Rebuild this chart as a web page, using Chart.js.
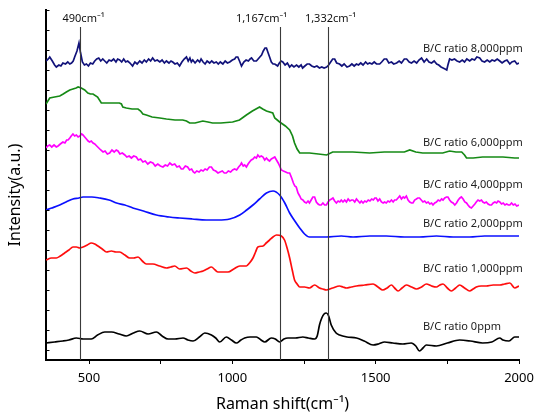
<!DOCTYPE html>
<html>
<head>
<meta charset="utf-8">
<script src="https://cdn.jsdelivr.net/npm/chart.js@4.4.1/dist/chart.umd.min.js"></script>
<style>
html,body{margin:0;padding:0;background:#fff;}
#wrap{width:534px;height:415px;position:relative;}
</style>
</head>
<body>
<div id="wrap"><canvas id="c" width="534" height="415"></canvas></div>
<script>
// ---- data (Raman shift in cm-1, intensity in arbitrary offset units) ----
const xTicks = [500, 750, 1000, 1250, 1500, 1750, 2000];
const yTicks = [10,30,50,70,90,110,130,150,170,190,210,230,250,270,290,310,330,350];

const peakPositions = [468, 1167, 1332];
const peakLabels = ['490cm⁻¹', '1,167cm⁻¹', '1,332cm⁻¹'];

const seriesNames = ['B/C ratio 8,000ppm','B/C ratio 6,000ppm','B/C ratio 4,000ppm','B/C ratio 2,000ppm','B/C ratio 1,000ppm','B/C ratio 0ppm'];
const seriesLabelY = [311, 217, 175, 136, 91, 33];

const x8000 = [350,358,363,372,380,386,395,402,409,418,426,433,439,445,450,458,465,470,477,484,491,498,505,513,520,527,534,541,548,555,562,570,578,586,594,600,607,614,621,628,635,643,652,660,668,677,685,693,700,708,715,722,730,738,747,755,763,770,779,786,792,800,808,816,824,832,840,846,852,857,862,870,879,886,891,898,905,912,921,928,936,944,951,958,967,975,983,991,1000,1008,1013,1019,1025,1032,1040,1048,1056,1062,1067,1075,1084,1090,1096,1102,1108,1114,1119,1125,1130,1136,1142,1148,1153,1158,1164,1170,1176,1184,1192,1200,1207,1215,1224,1232,1240,1245,1253,1261,1269,1277,1286,1295,1304,1312,1320,1329,1336,1343,1350,1357,1364,1374,1382,1390,1400,1409,1417,1425,1433,1440,1448,1456,1465,1472,1479,1487,1495,1503,1514,1521,1530,1538,1546,1555,1563,1573,1582,1590,1600,1608,1617,1625,1634,1643,1651,1660,1669,1678,1686,1695,1704,1713,1720,1728,1735,1742,1748,1752,1758,1766,1775,1784,1793,1802,1810,1818,1828,1836,1845,1853,1863,1871,1880,1889,1898,1906,1915,1924,1933,1941,1950,1958,1968,1975,1985,1993,2000];
const y8000 = [299,301,303,299,295,293,295,294,297,296,298,296,297,299,303,309,317,308,298,295,296,294,297,296,299,301,302,299,301,299,297,300,299,301,298,301,300,298,301,298,299,297,294,298,296,299,297,300,298,301,299,302,299,300,298,300,297,299,297,299,298,296,297,294,298,301,303,299,302,298,300,297,300,298,301,298,296,299,297,299,297,298,296,298,296,299,297,298,300,301,303,303,299,294,298,300,299,301,302,299,299,301,303,305,309,312,312,307,303,298,296,296,295,294,297,299,298,295,297,293,295,293,295,293,295,292,294,296,296,294,293,294,292,293,292,293,295,298,301,301,297,296,294,296,293,294,296,294,296,295,297,295,298,296,297,296,298,296,296,298,301,301,297,298,296,297,299,297,301,301,298,297,299,297,300,302,298,301,298,297,299,296,295,293,292,291,290,295,301,300,301,299,298,300,298,301,299,301,300,303,302,299,298,300,298,300,299,301,299,297,299,300,296,298,299,296,297];

const x6000 = [350,363,380,398,410,421,433,444,455,462,473,485,496,505,514,530,543,560,584,606,613,618,630,650,671,680,688,700,720,747,770,800,827,840,851,870,897,915,931,960,1001,1025,1049,1070,1095,1106,1119,1141,1148,1165,1185,1200,1210,1217,1226,1235,1269,1300,1329,1350,1380,1420,1479,1530,1573,1600,1619,1640,1664,1700,1734,1758,1780,1800,1810,1817,1840,1873,1910,1944,1985,2000];
const y6000 = [256,262,263,264,266,268,270,271,272,273,272,270,267,266,266,263,257,257,257,257,256,253,252,251,251,249,246,245,243,242,241,240,240,239,237,237,239,238,237,237,238,240,245,249,253,251,249,247,242,238,234,230,224,217,211,207,207,206,205,208,208,208,207,208,208,208,210,208,207,207,207,209,208,208,205,202,202,203,203,203,202,202];

const x4000 = [350,356,363,370,378,386,392,400,409,416,422,427,433,438,444,450,456,462,468,474,479,485,491,497,502,508,514,520,527,534,541,549,556,564,572,580,588,595,601,608,616,625,632,640,648,656,665,672,680,688,696,705,714,723,731,740,749,758,766,774,782,790,799,807,815,822,828,836,844,851,858,864,869,876,884,891,898,905,912,920,927,934,942,950,957,965,972,979,986,994,1001,1008,1015,1022,1028,1032,1038,1043,1049,1055,1060,1066,1072,1078,1084,1089,1095,1101,1107,1113,1119,1125,1130,1136,1142,1148,1154,1160,1165,1171,1178,1186,1193,1200,1207,1213,1218,1223,1229,1235,1240,1246,1252,1258,1264,1269,1275,1281,1287,1293,1299,1304,1310,1316,1322,1328,1334,1340,1346,1351,1357,1363,1369,1375,1380,1386,1392,1398,1404,1410,1416,1421,1427,1433,1439,1445,1450,1456,1462,1468,1474,1480,1486,1492,1497,1502,1508,1514,1520,1526,1531,1537,1543,1549,1555,1561,1566,1572,1578,1584,1590,1596,1601,1607,1613,1619,1625,1630,1636,1642,1647,1653,1659,1665,1671,1677,1683,1689,1695,1700,1706,1712,1718,1724,1730,1735,1741,1747,1752,1758,1764,1770,1776,1782,1788,1794,1799,1805,1811,1817,1822,1828,1834,1840,1846,1851,1857,1863,1869,1874,1880,1886,1892,1898,1904,1910,1916,1922,1927,1933,1939,1945,1951,1957,1963,1968,1974,1980,1986,1992,2000];
const y4000 = [212,214,215,213,215,213,214,216,218,217,220,220,222,224,226,224,225,223,224,226,225,223,221,219,218,219,217,216,214,212,210,208,209,206,207,210,208,210,209,206,207,205,203,204,202,204,203,200,201,198,199,196,198,197,194,196,194,193,195,194,197,195,196,193,194,191,191,194,193,190,191,188,187,189,188,190,189,191,190,193,193,190,189,187,188,189,187,187,189,188,190,191,190,193,195,197,194,195,193,196,198,200,201,203,202,205,203,204,203,200,202,200,199,201,202,203,200,197,194,190,189,188,187,187,182,177,174,173,167,164,161,160,158,157,159,157,160,163,163,158,156,155,155,157,155,155,158,160,161,162,159,157,159,158,160,158,160,158,161,159,160,160,158,161,159,157,159,157,159,158,160,159,161,160,162,162,159,161,158,157,158,157,159,158,160,158,160,160,162,164,161,163,162,164,160,158,157,157,160,161,162,162,160,158,159,157,158,156,157,155,157,158,160,159,161,160,162,163,163,160,158,157,155,157,160,162,163,161,158,157,155,153,152,154,156,158,160,159,160,158,157,158,156,155,155,157,158,157,159,158,156,157,155,156,155,155,157,155,156,154,155];

const x2000 = [350,370,398,420,444,465,479,510,537,570,596,625,653,690,735,780,816,860,909,950,991,1026,1050,1072,1095,1119,1142,1165,1183,1200,1218,1235,1252,1269,1300,1328,1380,1421,1480,1537,1600,1653,1712,1770,1828,1880,1933,1978,2000];
const y2000 = [150,152,155,158,161,162,163,163,162,160,157,155,152,149,145,143,142,141,140,140,141,145,150,155,161,167,169,165,157,147,139,132,126,123,123,123,124,123,124,124,123,123,124,123,123,124,124,124,124];

const x1000 = [350,369,386,400,415,430,444,456,468,479,494,508,520,531,546,561,578,594,607,625,642,656,671,686,700,712,723,746,770,785,799,816,840,855,869,884,898,912,927,940,950,968,985,1005,1026,1049,1060,1072,1081,1089,1107,1118,1130,1142,1154,1171,1182,1191,1200,1209,1217,1226,1235,1252,1269,1287,1304,1316,1328,1350,1374,1386,1398,1415,1433,1462,1491,1508,1525,1540,1555,1566,1578,1592,1607,1625,1642,1660,1677,1695,1712,1724,1735,1750,1764,1779,1793,1810,1828,1840,1851,1868,1886,1910,1933,1950,1968,1985,2000];
const y1000 = [100,102,102,104,107,110,113,113,112,113,115,117,116,114,111,108,109,108,108,105,102,102,103,99,96,96,96,94,92,93,94,91,92,89,87,88,89,91,93,90,88,88,88,91,94,94,97,102,108,113,114,117,120,123,125,124,120,112,102,90,80,76,73,73,72,75,72,71,70,72,74,73,72,73,74,75,76,73,70,72,75,72,69,72,75,73,71,73,76,74,73,75,76,72,69,72,75,72,69,71,73,74,74,75,75,76,77,72,74];

const x0 = [350,380,409,430,456,480,508,530,555,579,605,630,655,677,706,735,755,776,800,828,845,863,885,904,927,942,956,979,997,1014,1030,1043,1062,1084,1100,1113,1136,1150,1165,1180,1194,1220,1246,1265,1287,1296,1304,1312,1320,1328,1336,1345,1362,1374,1400,1433,1460,1491,1510,1531,1560,1595,1624,1640,1653,1665,1677,1712,1750,1793,1830,1873,1905,1933,1944,1965,1985,2000];
const y0 = [17,18,19,20,22,21,21,25,28,28,26,24,27,29,26,28,24,21,21,22,20,19,23,27,25,22,18,23,20,17,20,22,23,23,20,18,22,21,18,21,22,22,23,22,21,24,35,42,46,47,44,35,27,25,23,22,19,15,16,18,17,16,17,14,9,12,15,14,17,20,19,17,18,22,20,19,23,23];

const seriesColors = ['#11127a','#168a16','#ff00ff','#0b10ff','#ff0d0d','#000000'];

// ---- helpers ----
function pts(xs, ys){ return xs.map((v,i)=>({x:v, y:ys[i]})); }

const allX = [x8000,x6000,x4000,x2000,x1000,x0];
const allY = [y8000,y6000,y4000,y2000,y1000,y0];
const tensions = [0, 0, 0, 0.4, 0.4, 0.4];

const datasets = allX.map((xs,i)=>({
  label: seriesNames[i],
  data: pts(xs, allY[i]),
  borderColor: seriesColors[i],
  borderWidth: 1.7,
  pointRadius: 0,
  fill: false,
  tension: tensions[i],
  cubicInterpolationMode: i >= 3 ? 'monotone' : 'default'
}));

const FONT = '"Noto Sans", "DejaVu Sans", sans-serif';

const annot = {
  id: 'annot',
  afterDatasetsDraw(chart){
    const {ctx, chartArea, scales:{x, y}} = chart;
    ctx.save();
    // peak reference lines
    ctx.strokeStyle = '#3a3a3a';
    ctx.lineWidth = 1.1;
    const lineTop = y.getPixelForValue(333);
    const labelDx = [3, -19, 2];
    peakPositions.forEach((p,i)=>{
      const px = Math.round(x.getPixelForValue(p)) + 0.5;
      ctx.beginPath();
      ctx.moveTo(px, lineTop);
      ctx.lineTo(px, chartArea.bottom);
      ctx.stroke();
      ctx.fillStyle = '#111';
      ctx.font = '11px ' + FONT;
      ctx.textAlign = 'center';
      ctx.textBaseline = 'middle';
      ctx.fillText(peakLabels[i], px + labelDx[i], y.getPixelForValue(341));
    });
    // series labels
    ctx.font = '11px ' + FONT;
    ctx.textAlign = 'left';
    ctx.textBaseline = 'middle';
    ctx.fillStyle = '#222';
    seriesNames.forEach((n,i)=>{
      ctx.fillText(n, x.getPixelForValue(1665), y.getPixelForValue(seriesLabelY[i]));
    });
    // inward y ticks
    ctx.strokeStyle = '#000';
    ctx.lineWidth = 1;
    yTicks.forEach(t=>{
      const py = Math.round(y.getPixelForValue(t)) + 0.5;
      ctx.beginPath();
      ctx.moveTo(chartArea.left, py);
      ctx.lineTo(chartArea.left + 3.5, py);
      ctx.stroke();
    });
    // y-axis title
    ctx.translate(15, 195);
    ctx.rotate(-Math.PI/2);
    ctx.textAlign = 'center';
    ctx.textBaseline = 'middle';
    ctx.fillStyle = '#000';
    ctx.font = '16px ' + FONT;
    ctx.fillText('Intensity(a.u.)', 0, 0);
    ctx.restore();
  }
};

new Chart(document.getElementById('c'), {
  type: 'line',
  data: { datasets },
  options: {
    responsive: false,
    animation: false,
    layout: { padding: { left: 0, right: 0, top: 10, bottom: 0 } },
    plugins: { legend: { display: false }, tooltip: { enabled: false } },
    scales: {
      x: {
        type: 'linear',
        min: 350, max: 2000,
        afterBuildTicks(s){ s.ticks = xTicks.map(v=>({value:v})); },
        ticks: {
          autoSkip: false, maxRotation: 0, padding: 6,
          color: '#000',
          font: { size: 13, family: FONT },
          callback: (v)=> (v % 500 === 0 ? String(v) : '')
        },
        grid: { display: true, drawOnChartArea: false, drawTicks: true, tickLength: 4, color: '#000', tickWidth: 1 },
        border: { display: true, color: '#000', width: 2 },
        title: { display: true, text: 'Raman shift(cm⁻¹)', color: '#000', font: { size: 16, family: FONT }, padding: { top: 2, bottom: 1 } },
        afterFit(s){ s.height = 55; s.paddingRight = 15; s.paddingLeft = 0; }
      },
      y: {
        type: 'linear',
        min: 0, max: 350,
        ticks: { display: false },
        grid: { display: false, drawTicks: false },
        border: { display: true, color: '#000', width: 2 },
        afterFit(s){ s.width = 46; }
      }
    }
  },
  plugins: [annot]
});
</script>
</body>
</html>
